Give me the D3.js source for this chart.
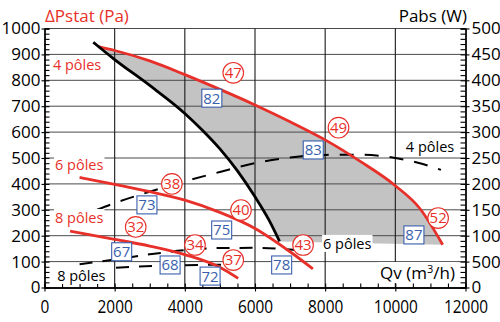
<!DOCTYPE html>
<html>
<head>
<meta charset="utf-8">
<script src="https://cdn.jsdelivr.net/npm/d3@7"></script>
<style>
  body { margin: 0; background: #fff; }
  svg { display: block; }
</style>
</head>
<body>
<div id="chart"></div>
<script>
// ticks
var qvTicks = [0, 2000, 4000, 6000, 8000, 10000, 12000];
var paTicks = [0, 100, 200, 300, 400, 500, 600, 700, 800, 900, 1000];
var wTicks = [0, 500, 1000, 1500, 2000, 2500, 3000, 3500, 4000, 4500, 5000];

// fan curves, Qv (m3/h) -> Pstat (Pa)
var fan4Qv = [1530, 2000, 3000, 4000, 5000, 6000, 7000, 8000, 9000, 10000, 10700, 11350];
var fan4Pa = [930, 915, 875, 822, 765, 705, 640, 570, 487, 393, 305, 165];
var fan6Qv = [1000, 2000, 3000, 4000, 5000, 6000, 7000, 7650];
var fan6Pa = [425, 398, 370, 337, 290, 228, 138, 72];
var fan8Qv = [730, 2000, 3000, 4000, 5000, 5520];
var fan8Pa = [218, 186, 160, 127, 78, 35];

// limit curve (left edge of the grey zone)
var limitQv = [1390, 2000, 3000, 4000, 4500, 5000, 5500, 6000, 6400, 6700];
var limitPa = [947, 880, 780, 672, 607, 535, 450, 350, 260, 178];

// absorbed power, Qv -> W
var pow4Qv = [1500, 2000, 3000, 4000, 5000, 6000, 7000, 8000, 9000, 10000, 10700, 11300];
var pow4W = [1500, 1630, 1850, 2050, 2230, 2400, 2510, 2560, 2565, 2500, 2400, 2270];
var pow6Qv = [1000, 2000, 3000, 4000, 5000, 6000, 7000, 7600];
var pow6W = [450, 540, 640, 720, 763, 765, 732, 700];
var pow8Qv = [730, 1500, 2500, 3500, 4500, 5500];
var pow8W = [330, 360, 398, 423, 436, 440];

// red circled values
var ringQv = [5380, 8380, 11220, 3630, 5600, 7370, 2600, 4290, 5380];
var ringPa = [829, 617, 268, 400, 299, 164, 234, 164, 106];
var ringText = ["47", "49", "52", "38", "40", "43", "32", "34", "37"];
// blue boxed values
var boxQv = [4770, 7660, 10530, 2920, 5050, 6760, 2200, 3580, 4720];
var boxPa = [731, 531, 203, 319, 222, 87, 138, 87, 44];
var boxText = ["82", "83", "87", "73", "75", "78", "67", "68", "72"];

var FONT = "'Open Sans', 'Liberation Sans', sans-serif";
var RED = "#e8302a";
var BLUE = "#3a5fad";

var svgWidth = 500;
var svgHeight = 322;

var svg = d3.select("#chart")
  .append("svg")
  .attr("width", svgWidth)
  .attr("height", svgHeight)
  .attr("font-family", FONT);

var x = d3.scaleLinear().domain([0, 12000]).range([44.5, 465.5]);
var y = d3.scaleLinear().domain([0, 1000]).range([287.5, 28.5]);
var yW = d3.scaleLinear().domain([0, 5000]).range([287.5, 28.5]);
var plain = d3.format("d");

function pts(xs, ys) {
  return xs.map(function(d, i) { return [d, ys[i]]; });
}

var linePa = d3.line()
  .x(function(d) { return x(d[0]); })
  .y(function(d) { return y(d[1]); })
  .curve(d3.curveMonotoneX);

var lineW = d3.line()
  .x(function(d) { return x(d[0]); })
  .y(function(d) { return yW(d[1]); })
  .curve(d3.curveMonotoneX);

// grey working zone: 4 poles curve, then limit curve back up
var fan4 = pts(fan4Qv, fan4Pa);
var limit = pts(limitQv, limitPa);
var limitBack = limit.filter(function(d) { return d[0] >= 1530; }).reverse();
var greyPath = linePa(fan4) + "L" + linePa.curve(d3.curveLinear)(limitBack).slice(1) + "Z";
linePa.curve(d3.curveMonotoneX);

svg.append("path")
  .attr("d", greyPath)
  .attr("fill", "#c3c3c3");

// grid
var grid = svg.append("g");
grid.selectAll(".h")
  .data(paTicks.slice(1))
  .enter().append("line")
  .attr("x1", x(0)).attr("x2", x(12000))
  .attr("y1", function(d) { return y(d); })
  .attr("y2", function(d) { return y(d); })
  .attr("stroke", "#4a4a4a")
  .attr("stroke-width", 1);
grid.selectAll(".v")
  .data(qvTicks.slice(1, -1))
  .enter().append("line")
  .attr("y1", y(0)).attr("y2", y(1000))
  .attr("x1", function(d) { return x(d); })
  .attr("x2", function(d) { return x(d); })
  .attr("stroke", "#1a1a1a")
  .attr("stroke-width", 1.1);

// axes
function styleAxis(g, size) {
  g.select(".domain").attr("stroke", "#000").attr("stroke-width", 1.3);
  g.selectAll(".tick line").attr("stroke", "#000").attr("stroke-width", 1.1);
  g.selectAll("text").attr("font-family", FONT).attr("font-size", size).attr("fill", "#000");
}

var leftAxis = svg.append("g")
  .attr("transform", "translate(" + x(0) + ",0)")
  .call(d3.axisLeft(y).tickValues(paTicks).tickFormat(plain).tickSizeInner(3).tickSizeOuter(0).tickPadding(1));
styleAxis(leftAxis, 17);
var leftMinor = svg.append("g")
  .attr("transform", "translate(" + x(0) + ",0)")
  .call(d3.axisRight(y).tickValues(d3.range(0, 1001, 20)).tickSize(5).tickFormat(""));
styleAxis(leftMinor, 10);

var rightAxis = svg.append("g")
  .attr("transform", "translate(" + x(12000) + ",0)")
  .call(d3.axisRight(yW).tickValues(wTicks).tickFormat(plain).tickSizeInner(4).tickSizeOuter(0).tickPadding(2));
styleAxis(rightAxis, 17);
var rightMinor = svg.append("g")
  .attr("transform", "translate(" + x(12000) + ",0)")
  .call(d3.axisLeft(yW).tickValues(d3.range(0, 5001, 100)).tickSize(5).tickFormat(""));
styleAxis(rightMinor, 10);

var bottomAxis = svg.append("g")
  .attr("transform", "translate(0," + y(0) + ")")
  .call(d3.axisBottom(x).tickValues(qvTicks).tickFormat(plain).tickSizeInner(4).tickSizeOuter(0));
styleAxis(bottomAxis, 19);
bottomAxis.selectAll("text")
  .attr("y", 12)
  .attr("textLength", function(d) { return String(d).length * 8.8; })
  .attr("lengthAdjust", "spacingAndGlyphs");
var bottomMinor = svg.append("g")
  .attr("transform", "translate(0," + y(0) + ")")
  .call(d3.axisTop(x).tickValues(d3.range(0, 12001, 500)).tickSize(4).tickFormat(""));
styleAxis(bottomMinor, 10);

// power curves (dashed)
svg.append("path")
  .attr("d", lineW(pts(pow4Qv, pow4W)))
  .attr("fill", "none").attr("stroke", "#000")
  .attr("stroke-width", 2).attr("stroke-dasharray", "14,11");
svg.append("path")
  .attr("d", lineW(pts(pow6Qv, pow6W)))
  .attr("fill", "none").attr("stroke", "#000")
  .attr("stroke-width", 2).attr("stroke-dasharray", "13,10");
svg.append("path")
  .attr("d", lineW(pts(pow8Qv, pow8W)))
  .attr("fill", "none").attr("stroke", "#000")
  .attr("stroke-width", 2).attr("stroke-dasharray", "13,10");

// fan curves
[pts(fan4Qv, fan4Pa), pts(fan6Qv, fan6Pa), pts(fan8Qv, fan8Pa)].forEach(function(c) {
  svg.append("path")
    .attr("d", linePa(c))
    .attr("fill", "none")
    .attr("stroke", RED)
    .attr("stroke-width", 2.8);
});

// limit curve
svg.append("path")
  .attr("d", linePa(limit))
  .attr("fill", "none")
  .attr("stroke", "#000")
  .attr("stroke-width", 2.8);

// text with white background
function label(txt, px, py, color, size, anchor) {
  var g = svg.append("g");
  var r = g.append("rect").attr("fill", "#fff");
  var t = g.append("text")
    .attr("x", px).attr("y", py)
    .attr("fill", color)
    .attr("font-size", size)
    .attr("text-anchor", anchor || "start")
    .text(txt);
  var b = t.node().getBBox();
  r.attr("x", b.x - 1).attr("y", b.y + 1).attr("width", b.width + 2).attr("height", b.height - 2);
  return {g: g, t: t, r: r};
}

label("4 pôles", x(240), y(838), RED, 14.5);
label("6 pôles", x(300), y(454), RED, 14.5);
label("8 pôles", x(300), y(249), RED, 14.5);
label("4 pôles", x(10300), y(523), "#000", 14.5);
label("6 pôles", x(7940), y(149), "#000", 14.5);
label("8 pôles", x(360), y(25), "#000", 14.5);

// flow axis title, with a white box behind it
var qv = label("Qv (m", x(11700), y(33), "#000", 17, "end");
qv.t.append("tspan").attr("font-size", 11).attr("dy", -6).text("3");
qv.t.append("tspan").attr("dy", 6).text("/h)");
var qb = qv.t.node().getBBox();
qv.r.attr("x", qb.x - 2).attr("y", qb.y + 1).attr("width", qb.width + 4).attr("height", qb.height - 2);

// axis titles
svg.append("text")
  .attr("x", 45).attr("y", 22)
  .attr("fill", RED).attr("font-size", 17)
  .text("ΔPstat (Pa)");
svg.append("text")
  .attr("x", 467).attr("y", 22)
  .attr("text-anchor", "end")
  .attr("fill", "#000").attr("font-size", 17)
  .text("Pabs (W)");

// red rings
var rings = svg.selectAll(".ring")
  .data(ringText)
  .enter().append("g")
  .attr("transform", function(d, i) { return "translate(" + x(ringQv[i]) + "," + y(ringPa[i]) + ")"; });
rings.append("circle")
  .attr("r", 10.3)
  .attr("fill", "#fff")
  .attr("stroke", RED)
  .attr("stroke-width", 1.1);
rings.append("text")
  .attr("text-anchor", "middle")
  .attr("dy", "0.36em")
  .attr("fill", RED)
  .attr("font-size", 15)
  .text(function(d) { return d; });

// blue boxes
var boxes = svg.selectAll(".box")
  .data(boxText)
  .enter().append("g")
  .attr("transform", function(d, i) { return "translate(" + x(boxQv[i]) + "," + y(boxPa[i]) + ")"; });
boxes.append("rect")
  .attr("x", -10).attr("y", -9)
  .attr("width", 20).attr("height", 18)
  .attr("fill", "#fff")
  .attr("stroke", BLUE)
  .attr("stroke-width", 1.1);
boxes.append("text")
  .attr("text-anchor", "middle")
  .attr("dy", "0.36em")
  .attr("fill", BLUE)
  .attr("font-size", 15)
  .text(function(d) { return d; });
</script>
</body>
</html>
